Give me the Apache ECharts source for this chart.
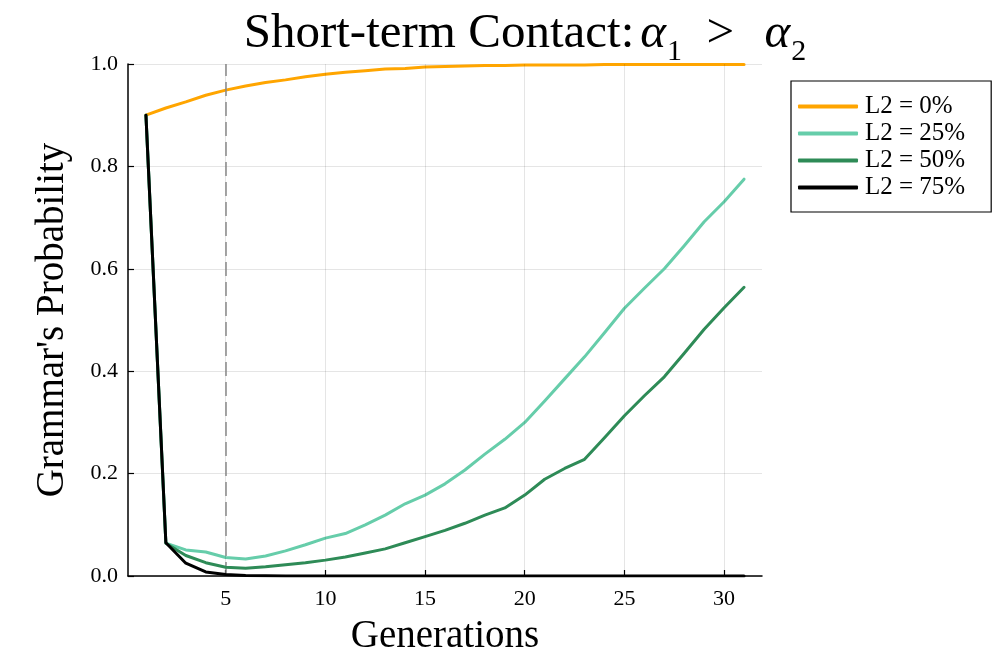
<!DOCTYPE html>
<html>
<head>
<meta charset="utf-8">
<script src="https://cdn.jsdelivr.net/npm/echarts@6/dist/echarts.min.js"></script>
<style>
  html, body { margin: 0; padding: 0; background: #fff; }
  #chart { width: 1003px; height: 653px; }
</style>
</head>
<body>
<div id="chart"></div>
<script>
// Generations 1..31
const generations = [1,2,3,4,5,6,7,8,9,10,11,12,13,14,15,16,17,18,19,20,21,22,23,24,25,26,27,28,29,30,31];

// Probability of the grammar for each share of L2 speakers
const l2_0 = [0.900,0.914,0.926,0.939,0.949,0.957,0.964,0.969,0.975,0.980,0.984,0.987,0.990,0.991,0.994,0.995,0.996,0.997,0.997,0.998,0.998,0.998,0.998,0.999,0.999,0.999,0.999,0.999,0.999,0.999,0.999];
const l2_25 = [0.900,0.064,0.051,0.047,0.036,0.033,0.039,0.049,0.061,0.074,0.083,0.100,0.119,0.141,0.158,0.180,0.207,0.238,0.267,0.300,0.342,0.385,0.428,0.475,0.523,0.562,0.600,0.645,0.692,0.731,0.775];
const l2_50 = [0.900,0.064,0.040,0.026,0.017,0.015,0.018,0.022,0.026,0.031,0.037,0.045,0.053,0.065,0.077,0.089,0.103,0.119,0.133,0.158,0.189,0.210,0.228,0.270,0.313,0.352,0.389,0.435,0.482,0.524,0.564];
const l2_75 = [0.900,0.065,0.025,0.008,0.003,0.001,0.0005,0,0,0,0,0,0,0,0,0,0,0,0,0,0,0,0,0,0,0,0,0,0,0,0];

const seriesNames = ['L2 = 0%', 'L2 = 25%', 'L2 = 50%', 'L2 = 75%'];
const xTicks = [5, 10, 15, 20, 25, 30];
const contactEnd = 5; // generation where contact stops

const colors = ['#FFA500', '#66CDAA', '#2E8B57', '#000000'];
const serif = '"Liberation Serif", "DejaVu Serif", serif';

const pairs = ys => generations.map((g, i) => [g, ys[i]]);
const allValues = [l2_0, l2_25, l2_50, l2_75];

const series = allValues.map((ys, k) => ({
  name: seriesNames[k],
  type: 'line',
  data: pairs(ys),
  showSymbol: false,
  symbol: 'none',
  lineStyle: { width: 3, color: colors[k], cap: 'round', join: 'round' },
  itemStyle: { color: colors[k] },
  z: 3 + k,
  animation: false
}));

// vertical grid lines and the dashed marker at the end of contact
series.unshift({
  name: 'grid',
  type: 'line',
  data: [],
  silent: true,
  animation: false,
  z: 1,
  markLine: {
    silent: true,
    symbol: 'none',
    animation: false,
    label: { show: false },
    data: xTicks.map(v => ({ xAxis: v, lineStyle: { color: 'rgba(0,0,0,0.1)', width: 1, type: 'solid' } }))
      .concat([{ xAxis: contactEnd, lineStyle: { color: '#888', width: 1.5, type: [14, 6] } }])
  }
});

const chart = echarts.init(document.getElementById('chart'), null, { renderer: 'canvas' });
chart.setOption({
  backgroundColor: '#fff',
  animation: false,
  title: {
    text: '{m|Short-term Contact:}{i|α}{s|1}{m|  >  }{i|α}{s|2}',
    left: 520,
    top: -2,
    textAlign: 'center',
    textStyle: {
      fontWeight: 'normal',
      rich: {
        m: { fontFamily: serif, fontSize: 49, fontWeight: 'normal', color: '#000', lineHeight: 56, verticalAlign: 'bottom' },
        i: { fontFamily: serif, fontSize: 49, fontStyle: 'italic', fontWeight: 'normal', color: '#000', lineHeight: 56, verticalAlign: 'bottom', padding: [0, 0, 0, 6] },
        s: { fontFamily: serif, fontSize: 30, fontWeight: 'normal', color: '#000', lineHeight: 56, verticalAlign: 'bottom', padding: [0, 0, -8, 1] }
      }
    }
  },
  legend: {
    data: seriesNames,
    orient: 'vertical',
    left: 791,
    top: 81,
    backgroundColor: '#fff',
    borderColor: '#000',
    borderWidth: 1.2,
    padding: [13, 26, 12, 7],
    itemWidth: 60,
    itemHeight: 4,
    itemGap: 2,
    icon: 'roundRect',
    textStyle: { fontFamily: serif, fontSize: 25, lineHeight: 23, color: '#000', padding: [0, 0, 0, 2] }
  },
  grid: { left: 128, right: 241, top: 64, bottom: 77, containLabel: false, outerBoundsMode: 'none' },
  xAxis: {
    type: 'value',
    min: 0.1,
    max: 31.9,
    name: 'Generations',
    nameLocation: 'middle',
    nameGap: 41,
    nameTextStyle: { fontFamily: serif, fontSize: 39, color: '#000' },
    axisLine: { show: true, onZero: false, lineStyle: { color: '#000', width: 1.5 } },
    axisTick: { show: true, inside: true, length: 6, customValues: xTicks, lineStyle: { color: '#000', width: 1.2 } },
    axisLabel: { customValues: xTicks, fontFamily: serif, fontSize: 22, color: '#000', margin: 12 },
    splitLine: { show: false }
  },
  yAxis: {
    type: 'value',
    min: 0,
    max: 1,
    interval: 0.2,
    name: "Grammar's Probability",
    nameLocation: 'middle',
    nameGap: 56,
    nameTextStyle: { fontFamily: serif, fontSize: 39, color: '#000' },
    axisLine: { show: true, lineStyle: { color: '#000', width: 1.5 } },
    axisTick: { show: true, inside: true, length: 6, lineStyle: { color: '#000', width: 1.2 } },
    axisLabel: { fontFamily: serif, fontSize: 22, color: '#000', margin: 10, formatter: v => v.toFixed(1) },
    splitLine: { show: true, lineStyle: { color: 'rgba(0,0,0,0.1)', width: 1 } }
  },
  series: series
});
</script>
</body>
</html>
